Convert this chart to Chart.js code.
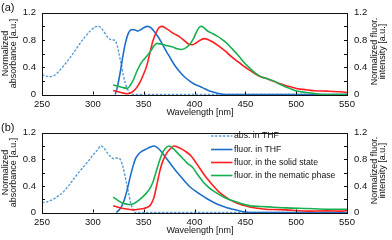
<!DOCTYPE html>
<html><head><meta charset="utf-8">
<script src="https://cdn.jsdelivr.net/npm/chart.js@4/dist/chart.umd.min.js"></script>
<style>
html,body{margin:0;padding:0;background:#fff;}
#wrap{position:relative;width:392px;height:240px;}
canvas{position:absolute;left:0;}
</style></head>
<body><div id="wrap"><canvas id="ca" width="392" height="120" style="top:0"></canvas><canvas id="cb" width="392" height="120" style="top:120px"></canvas></div>
<script>
// ---- data: panel (a) ----
const aAbsNm = [250,254,258,262,266,270,274,280,286,292,298,302,305,308,311,314,317,320,322,324,326,328,330,332,334,336,338,550];
const aAbsVal = [0.29,0.27,0.26,0.28,0.33,0.40,0.47,0.59,0.72,0.84,0.94,0.99,1.0,0.98,0.92,0.85,0.81,0.80,0.79,0.72,0.58,0.44,0.28,0.16,0.08,0.03,0.0,0.0];
const aThfNm = [322,324,327,330,332,335,338,341,344,347,350,354,357,360,364,368,372,376,380,385,390,395,400,405,410,415,420,425,430,550];
const aThfVal = [0,0.1,0.33,0.6,0.75,0.9,0.95,0.95,0.93,0.95,0.98,1.0,0.98,0.93,0.85,0.75,0.64,0.54,0.44,0.34,0.26,0.2,0.15,0.12,0.085,0.05,0.03,0.01,0,0];
const aSolNm = [320,325,330,334,338,342,346,350,353,356,359,362,365,368,372,376,380,385,390,394,398,402,406,410,414,418,424,430,436,442,448,455,460,465,470,475,480,488,495,501,510,518,530,544,550];
const aSolVal = [0.06,0.04,0.02,0.01,0.03,0.08,0.17,0.3,0.42,0.6,0.78,0.9,0.98,1.0,0.97,0.93,0.89,0.85,0.79,0.74,0.73,0.76,0.8,0.82,0.8,0.77,0.71,0.64,0.56,0.49,0.42,0.35,0.30,0.26,0.24,0.21,0.18,0.14,0.11,0.085,0.07,0.055,0.05,0.04,0.03];
const aNemNm = [320,325,330,334,337,340,343,347,350,353,357,360,363,367,372,378,383,387,391,395,399,402,405,407,410,413,417,422,427,432,437,442,447,452,457,462,467,472,478,484,490,495,500,510,520,525,550];
const aNemVal = [0.14,0.12,0.10,0.09,0.14,0.22,0.33,0.45,0.51,0.56,0.64,0.71,0.75,0.74,0.72,0.70,0.67,0.66,0.68,0.73,0.82,0.92,0.99,1.0,0.97,0.93,0.9,0.86,0.81,0.75,0.67,0.59,0.50,0.42,0.35,0.29,0.25,0.23,0.2,0.15,0.11,0.08,0.05,0.03,0.01,0,0];
// ---- data: panel (b) ----
const bAbsNm = [250,255,261,266,271,276,281,286,291,296,300,304,308,311,314,317,320,324,327,329,331,333,335,337,339,341,550];
const bAbsVal = [0.15,0.16,0.2,0.25,0.31,0.4,0.5,0.6,0.69,0.78,0.86,0.93,1.0,0.97,0.9,0.85,0.81,0.82,0.80,0.72,0.6,0.45,0.31,0.16,0.06,0,0];
const bThfNm = [323,327,330,332,335,337,340,342,345,348,352,356,360,363,366,370,376,381,386,391,396,401,406,412,419,425,432,440,448,455,550];
const bThfVal = [0,0.06,0.15,0.24,0.42,0.55,0.72,0.81,0.88,0.92,0.95,0.98,1.0,0.98,0.94,0.86,0.74,0.64,0.55,0.46,0.38,0.32,0.27,0.21,0.15,0.11,0.07,0.04,0.01,0,0];
const bSolNm = [320,325,330,335,340,345,350,354,357,360,363,366,369,373,377,380,384,388,392,396,401,405,409,414,419,424,429,435,442,448,455,462,470,478,490,500,511,530,545,550];
const bSolVal = [0.1,0.08,0.06,0.05,0.04,0.05,0.06,0.08,0.12,0.22,0.42,0.63,0.78,0.9,0.97,1.0,0.98,0.95,0.91,0.86,0.76,0.67,0.58,0.48,0.39,0.31,0.25,0.19,0.14,0.11,0.08,0.065,0.05,0.045,0.04,0.03,0.02,0.025,0.02,0.03];
const bNemNm = [320,324,328,332,336,340,344,348,352,356,359,362,365,368,371,375,379,383,388,393,398,403,408,413,420,429,437,445,455,465,478,490,511,530,550];
const bNemVal = [0.23,0.19,0.15,0.13,0.12,0.13,0.17,0.22,0.28,0.36,0.45,0.6,0.75,0.88,0.96,1.0,0.96,0.9,0.82,0.74,0.68,0.57,0.47,0.39,0.31,0.23,0.18,0.14,0.1,0.09,0.08,0.07,0.06,0.05,0.05];
// ---- labels ----
const xTicks = [250,300,350,400,450,500,550];
const yTicks = [0,0.2,0.4,0.6,0.8,1,1.2];
const seriesNames = ['abs. in THF','fluor. in THF','fluor. in the solid state','fluor. in the nematic phase'];
const xTitle = 'Wavelength [nm]';
const yTitleL = ['Normalized','absorbance [a.u.]'];
const yTitleR = ['Normalized fluor.','intensity [a.u.]'];
const panelLabels = ['(a)','(b)'];

const FONT = '"Liberation Sans", Arial, sans-serif';
const TXT = '#111';
const COLORS = ['#5b9bd5','#1f6fc9','#ff1f1f','#17b050'];

function pts(xs, ys){ return xs.map((x,i)=>({x:x, y:ys[i]})); }

function makeDatasets(sets){
  return sets.map((s,i)=>({
    label: seriesNames[i],
    data: pts(s[0], s[1]),
    yAxisID: i===0 ? 'y' : 'y2',
    borderColor: COLORS[i],
    borderWidth: i===0 ? 1.4 : 1.6,
    borderDash: i===0 ? [2.5,1.5] : [],
    pointRadius: 0,
    fill: false,
    cubicInterpolationMode: 'monotone',
    clip: 4,
    order: 4-i
  }));
}

function framePlugin(idx, showLegend){
  return {
    id: 'frame'+idx,
    afterDatasetsDraw(chart){
      const ctx = chart.ctx, a = chart.chartArea;
      const xs = chart.scales.x, ys = chart.scales.y;
      ctx.save();
      ctx.strokeStyle = '#111';
      ctx.lineWidth = 1;
      ctx.strokeRect(Math.round(a.left)+0.5, Math.round(a.top)+0.5, Math.round(a.right-a.left), Math.round(a.bottom-a.top));
      ctx.beginPath();
      xTicks.forEach(v=>{ const px = Math.round(xs.getPixelForValue(v))+0.5; ctx.moveTo(px, a.bottom); ctx.lineTo(px, a.bottom-3); });
      yTicks.forEach(v=>{ const py = Math.round(ys.getPixelForValue(v))+0.5; ctx.moveTo(a.left, py); ctx.lineTo(a.left+3, py); ctx.moveTo(a.right, py); ctx.lineTo(a.right-3, py); });
      ctx.stroke();
      ctx.restore();
    },
    afterDraw(chart){
      const ctx = chart.ctx, a = chart.chartArea;
      ctx.save();
      ctx.fillStyle = TXT;
      ctx.textAlign = 'center';
      ctx.textBaseline = 'middle';
      ctx.font = '9px ' + FONT;
      ctx.fillText(xTitle, 200, a.bottom + 18);
      const midY = (a.top + a.bottom)/2;
      ctx.save(); ctx.translate(5.5, midY); ctx.rotate(-Math.PI/2); ctx.fillText(yTitleL[0], 0, 0); ctx.restore();
      ctx.save(); ctx.translate(14, midY); ctx.rotate(-Math.PI/2); ctx.fillText(yTitleL[1], 0, 0); ctx.restore();
      ctx.save(); ctx.translate(374.5, midY-2); ctx.rotate(-Math.PI/2); ctx.fillText(yTitleR[0], 0, 0); ctx.restore();
      ctx.save(); ctx.translate(382.5, midY-2); ctx.rotate(-Math.PI/2); ctx.fillText(yTitleR[1], 0, 0); ctx.restore();
      ctx.textAlign = 'left';
      ctx.font = '11px ' + FONT;
      ctx.fillText(panelLabels[idx], 1, 7.5);
      if (showLegend){
        ctx.font = '8.7px ' + FONT;
        const rows = [16, 29.5, 42.5, 55.5];
        chart.data.datasets.forEach((d,i)=>{
          ctx.save();
          ctx.strokeStyle = d.borderColor;
          ctx.lineWidth = d.borderWidth;
          ctx.setLineDash(d.borderDash);
          ctx.beginPath(); ctx.moveTo(211, rows[i]); ctx.lineTo(232.5, rows[i]); ctx.stroke();
          ctx.restore();
          ctx.fillStyle = TXT;
          ctx.fillText(d.label, 234, rows[i]);
        });
      }
      ctx.restore();
    }
  };
}

function makeChart(id, idx, sets, top, xh, legend){
  const tickFont = {family: FONT, size: 9.5};
  return new Chart(document.getElementById(id), {
    type: 'line',
    data: { datasets: makeDatasets(sets) },
    options: {
      responsive: false, animation: false,
      layout: { padding: { top: top, left: 0, right: 0, bottom: 0 } },
      plugins: { legend: { display: false }, tooltip: { enabled: false } },
      scales: {
        x: { type: 'linear', min: 250, max: 550,
             ticks: { stepSize: 50, padding: 4, font: tickFont, color: TXT, maxRotation: 0, autoSkip: false },
             grid: { display: false, drawTicks: false }, border: { display: false },
             afterFit: s => { s.height = xh; } },
        y: { position: 'left', min: 0, max: 1.2,
             ticks: { stepSize: 0.2, padding: 6, font: tickFont, color: TXT },
             grid: { display: false, drawTicks: false }, border: { display: false },
             afterFit: s => { s.width = 42; } },
        y2: { position: 'right', min: 0, max: 1.2,
             ticks: { stepSize: 0.2, padding: 7, font: tickFont, color: TXT },
             grid: { display: false, drawTicks: false }, border: { display: false },
             afterFit: s => { s.width = 45; } }
      }
    },
    plugins: [framePlugin(idx, legend)]
  });
}

makeChart('ca', 0, [[aAbsNm,aAbsVal],[aThfNm,aThfVal],[aSolNm,aSolVal],[aNemNm,aNemVal]], 9, 25.5, false);
makeChart('cb', 1, [[bAbsNm,bAbsVal],[bThfNm,bThfVal],[bSolNm,bSolVal],[bNemNm,bNemVal]], 7, 27.5, true);
</script>
</body></html>
